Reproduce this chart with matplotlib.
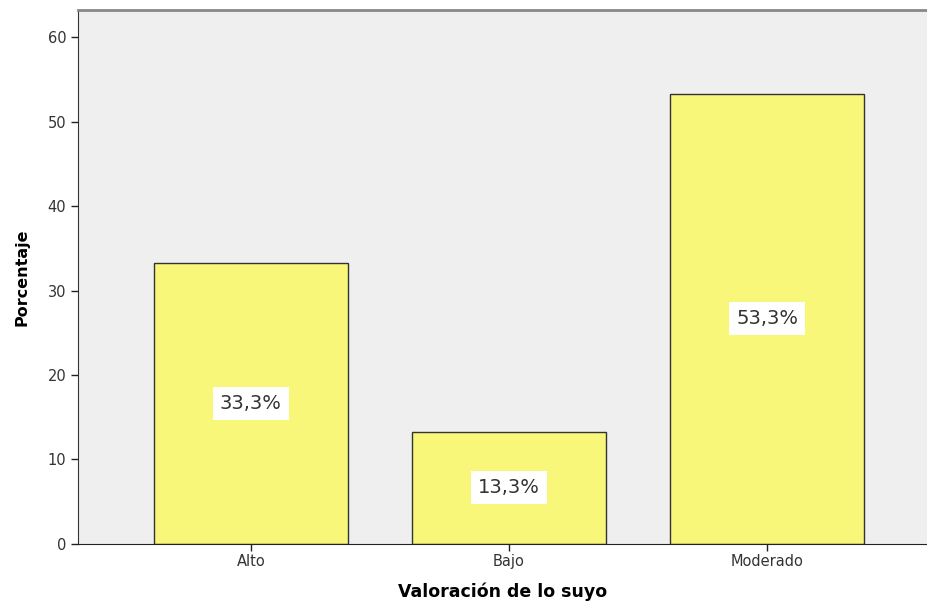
import matplotlib.pyplot as plt

plt.rcParams['font.family'] = ['DejaVu Sans']

categories = ['Alto', 'Bajo', 'Moderado']
percent = [33.3, 13.3, 53.3]
labels = ['33,3%', '13,3%', '53,3%']

fig = plt.figure(figsize=(9.28, 6.03), dpi=100)
ax = fig.add_axes([0.084, 0.098, 0.915, 0.885])
ax.set_facecolor('#efefef')

x = range(len(categories))
ax.bar(x, percent, width=0.75, color='#f8f77a', edgecolor='#333333', linewidth=1.0, zorder=2)

# value labels in white boxes, centred in each bar
for i, (v, lab) in enumerate(zip(percent, labels)):
    ax.text(i, v / 2, lab, ha='center', va='center', fontsize=14, color='#333333',
            bbox=dict(facecolor='white', edgecolor='none', pad=5), zorder=3)

ax.set_xlim(-0.67, 2.62)
ax.set_ylim(0, 63.2)
ax.set_xticks(list(x))
ax.set_xticklabels(categories, fontsize=10.5)
ax.set_yticks([0, 10, 20, 30, 40, 50, 60])
ax.tick_params(axis='y', labelsize=10.5, length=5, width=1, colors='#222222', labelcolor='#333333')
ax.tick_params(axis='x', length=5, width=1, colors='#222222', labelcolor='#333333', pad=2)

ax.spines['right'].set_visible(False)
ax.spines['top'].set_color('#888888')
ax.spines['top'].set_linewidth(2)
ax.spines['left'].set_color('#333333')
ax.spines['bottom'].set_color('#222222')

ax.set_ylabel('Porcentaje', fontsize=11.5, fontweight='bold', labelpad=13)
ax.set_xlabel('Valoración de lo suyo', fontsize=12.5, fontweight='bold', labelpad=10)

fig.savefig('out.png', dpi=100)
